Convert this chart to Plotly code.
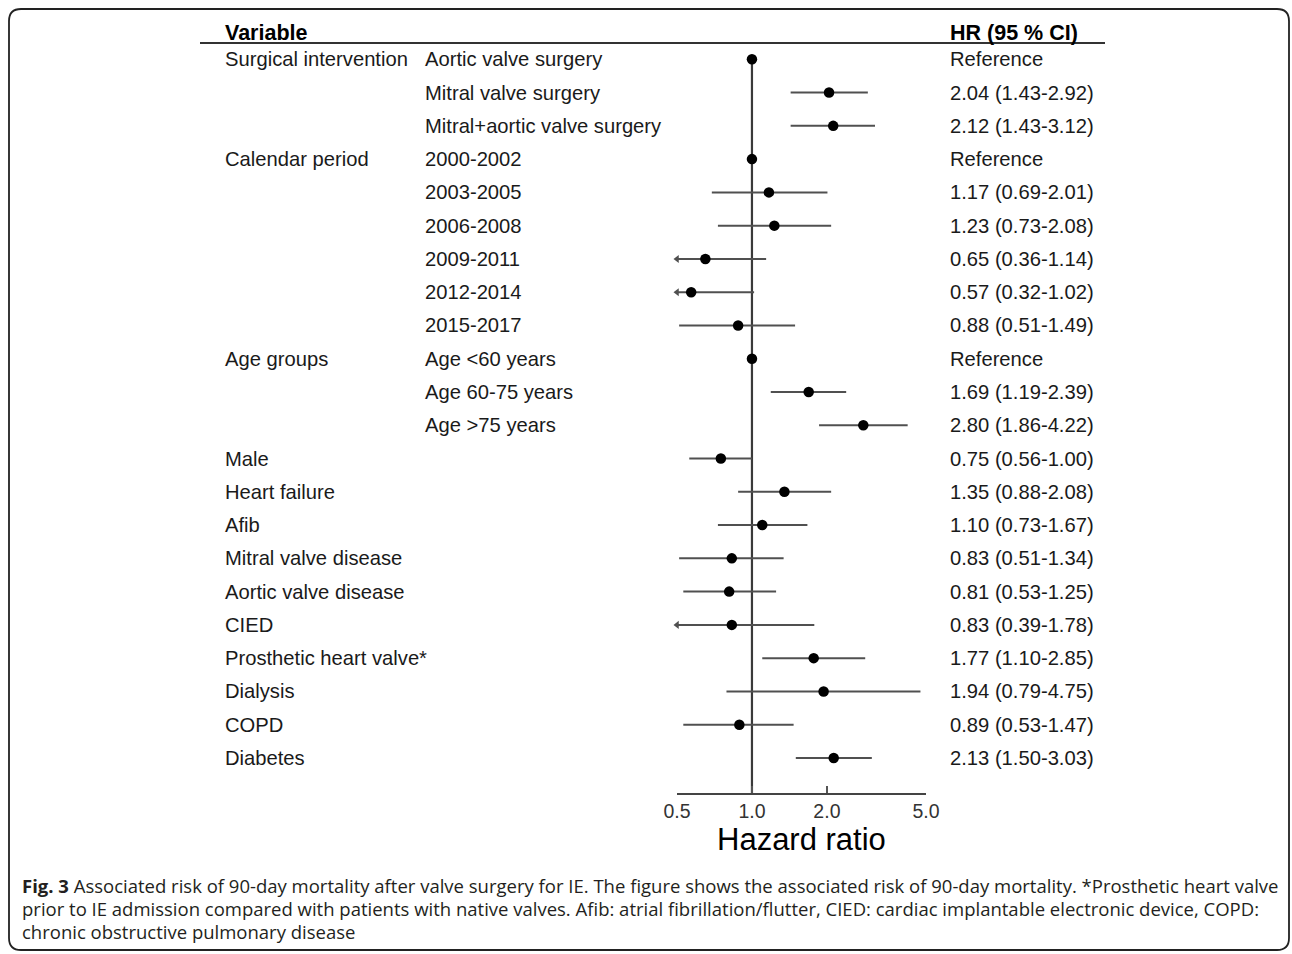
import math
import plotly.graph_objects as go

W, H = 1292, 954

groups = ["Surgical intervention", "", "", "Calendar period", "", "", "", "", "",
          "Age groups", "", "", "Male", "Heart failure", "Afib", "Mitral valve disease",
          "Aortic valve disease", "CIED", "Prosthetic heart valve*", "Dialysis", "COPD", "Diabetes"]
subgroups = ["Aortic valve surgery", "Mitral valve surgery", "Mitral+aortic valve surgery",
             "2000-2002", "2003-2005", "2006-2008", "2009-2011", "2012-2014", "2015-2017",
             "Age <60 years", "Age 60-75 years", "Age >75 years",
             "", "", "", "", "", "", "", "", "", ""]
hr = [1.00, 2.04, 2.12, 1.00, 1.17, 1.23, 0.65, 0.57, 0.88, 1.00, 1.69, 2.80,
      0.75, 1.35, 1.10, 0.83, 0.81, 0.83, 1.77, 1.94, 0.89, 2.13]
lower = [1.00, 1.43, 1.43, 1.00, 0.69, 0.73, 0.36, 0.32, 0.51, 1.00, 1.19, 1.86,
         0.56, 0.88, 0.73, 0.51, 0.53, 0.39, 1.10, 0.79, 0.53, 1.50]
upper = [1.00, 2.92, 3.12, 1.00, 2.01, 2.08, 1.14, 1.02, 1.49, 1.00, 2.39, 4.22,
         1.00, 2.08, 1.67, 1.34, 1.25, 1.78, 2.85, 4.75, 1.47, 3.03]
hr_text = ["Reference", "2.04 (1.43-2.92)", "2.12 (1.43-3.12)", "Reference",
           "1.17 (0.69-2.01)", "1.23 (0.73-2.08)", "0.65 (0.36-1.14)", "0.57 (0.32-1.02)",
           "0.88 (0.51-1.49)", "Reference", "1.69 (1.19-2.39)", "2.80 (1.86-4.22)",
           "0.75 (0.56-1.00)", "1.35 (0.88-2.08)", "1.10 (0.73-1.67)", "0.83 (0.51-1.34)",
           "0.81 (0.53-1.25)", "0.83 (0.39-1.78)", "1.77 (1.10-2.85)", "1.94 (0.79-4.75)",
           "0.89 (0.53-1.47)", "2.13 (1.50-3.03)"]
tick_vals = [0.5, 1.0, 2.0, 5.0]
tick_text = ["0.5", "1.0", "2.0", "5.0"]
x_min, x_max = 0.5, 5.0

caption_lines = [
    "<b>Fig. 3</b> Associated risk of 90-day mortality after valve surgery for IE. The figure shows the associated risk of 90-day mortality. *Prosthetic heart valve",
    "prior to IE admission compared with patients with native valves. Afib: atrial fibrillation/flutter, CIED: cardiac implantable electronic device, COPD:",
    "chronic obstructive pulmonary disease",
]


def px(x):
    return x / W


def py(y):
    return 1 - y / H


n = len(hr)
rows = list(range(n))
row0_px, row_step = 59.3, 33.27
axis_px = 793
top_idx = -1
bot_idx = (axis_px - row0_px) / row_step

FONT = "Liberation Sans, Arial, sans-serif"
TXT = "#1a1a1a"
ROW_SIZE = 20.2

fig = go.Figure()

# reference line at HR = 1
fig.add_trace(go.Scatter(x=[1, 1], y=[0, bot_idx], mode="lines",
                         line=dict(color="#3a3a3a", width=2.2), hoverinfo="skip",
                         showlegend=False))

# CI lines
cx, cy = [], []
ax_, ay_ = [], []
for i in rows:
    if lower[i] == upper[i]:
        continue
    lo = max(lower[i], x_min)
    hi = min(upper[i], x_max)
    cx += [lo, hi, None]
    cy += [i, i, None]
    if lower[i] < x_min:
        ax_.append(x_min)
        ay_.append(i)
fig.add_trace(go.Scatter(x=cx, y=cy, mode="lines", line=dict(color="#505050", width=2),
                         hoverinfo="skip", showlegend=False))
fig.add_trace(go.Scatter(x=ax_, y=ay_, mode="markers",
                         marker=dict(symbol="triangle-left", size=7, color="#505050"),
                         cliponaxis=False, hoverinfo="skip", showlegend=False))

# point estimates
fig.add_trace(go.Scatter(x=hr, y=rows, mode="markers",
                         marker=dict(symbol="circle", size=10.5, color="black"),
                         cliponaxis=False, showlegend=False))

ann = []
for i in rows:
    if groups[i]:
        ann.append(dict(x=px(223), y=i, xref="paper", yref="y", text=groups[i],
                        xanchor="left", yanchor="middle", showarrow=False,
                        font=dict(family=FONT, size=ROW_SIZE, color=TXT)))
    if subgroups[i]:
        ann.append(dict(x=px(423), y=i, xref="paper", yref="y", text=subgroups[i],
                        xanchor="left", yanchor="middle", showarrow=False,
                        font=dict(family=FONT, size=ROW_SIZE, color=TXT)))
    ann.append(dict(x=px(948), y=i, xref="paper", yref="y", text=hr_text[i],
                    xanchor="left", yanchor="middle", showarrow=False,
                    font=dict(family=FONT, size=ROW_SIZE, color=TXT)))

# headers
ann.append(dict(x=px(223), y=py(33.5), xref="paper", yref="paper", text="<b>Variable</b>",
                xanchor="left", yanchor="middle", showarrow=False,
                font=dict(family=FONT, size=21.5, color="black")))
ann.append(dict(x=px(948), y=py(33.5), xref="paper", yref="paper", text="<b>HR (95 % CI)</b>",
                xanchor="left", yanchor="middle", showarrow=False,
                font=dict(family=FONT, size=21.5, color="black")))
# axis title
ann.append(dict(x=px(801.5), y=py(839), xref="paper", yref="paper", text="Hazard ratio",
                xanchor="center", yanchor="middle", showarrow=False,
                font=dict(family=FONT, size=31, color="black")))
# caption
for k, line in enumerate(caption_lines):
    ann.append(dict(x=px(20), y=py(885 + 23 * k), xref="paper", yref="paper", text=line,
                    xanchor="left", yanchor="middle", showarrow=False,
                    font=dict(family="Open Sans, Noto Sans, sans-serif", size=18.5,
                              color="#231f20")))

shapes = [
    dict(type="line", xref="paper", yref="paper", x0=px(200), x1=px(1105),
         y0=py(43), y1=py(43), line=dict(color="#333333", width=2)),
]
# rounded border
L, R, T, B, r = px(9), px(1289), py(9), py(950), 12
rx, ry = r / W, r / H
path = (f"M {L+rx},{T} L {R-rx},{T} Q {R},{T} {R},{T-ry} L {R},{B+ry} Q {R},{B} {R-rx},{B} "
        f"L {L+rx},{B} Q {L},{B} {L},{B+ry} L {L},{T-ry} Q {L},{T} {L+rx},{T} Z")
shapes.append(dict(type="path", xref="paper", yref="paper", path=path,
                   line=dict(color="#222222", width=1.8)))

fig.update_layout(
    template="none",
    width=W, height=H, autosize=False,
    margin=dict(l=0, r=0, t=0, b=0, pad=0, autoexpand=False),
    paper_bgcolor="white", plot_bgcolor="white",
    annotations=ann, shapes=shapes, showlegend=False,
    xaxis=dict(type="log", range=[math.log10(x_min), math.log10(x_max)],
               domain=[px(677), px(926)], tickvals=tick_vals, ticktext=tick_text,
               ticks="inside", ticklen=7, tickwidth=1.5, tickcolor="#555555",
               showline=True, linecolor="#444444", linewidth=2, showgrid=False,
               zeroline=False, automargin=False,
               tickfont=dict(family=FONT, size=19.5, color="#333333")),
    yaxis=dict(range=[bot_idx, top_idx], domain=[py(axis_px), py(row0_px + top_idx * row_step)],
               visible=False, showgrid=False, zeroline=False, automargin=False),
)

fig.write_html("out.html", config={"displayModeBar": False},
               post_script="document.body.style.margin='0';document.body.style.overflow='hidden';")
